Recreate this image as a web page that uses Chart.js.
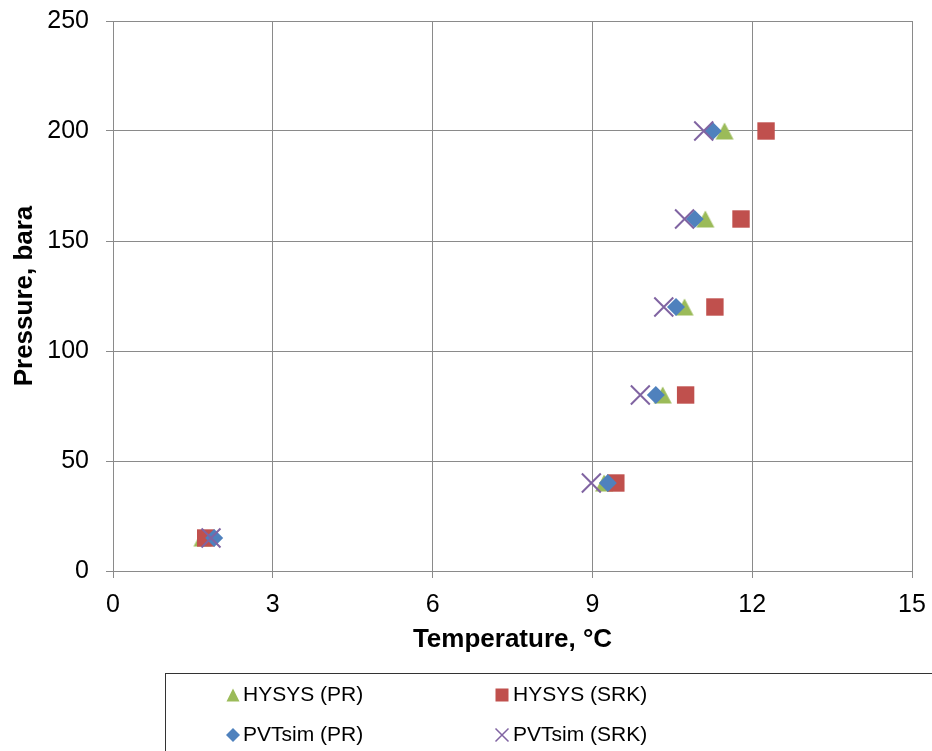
<!DOCTYPE html>
<html><head><meta charset="utf-8">
<script src="https://cdn.jsdelivr.net/npm/chart.js@4"></script>
<style>html,body{margin:0;padding:0;background:#fff}canvas{display:block}</style>
</head><body>
<canvas id="c" width="932" height="751"></canvas>
<script>
const seriesNames = ['HYSYS (PR)', 'HYSYS (SRK)', 'PVTsim (PR)', 'PVTsim (SRK)'];
const pressures = [15, 40, 80, 120, 160, 200];
const hysysPR  = [1.68, 9.22, 10.32, 10.73, 11.12, 11.48];
const hysysSRK = [1.74, 9.44, 10.75, 11.30, 11.79, 12.26];
const pvtsimPR = [1.90, 9.29, 10.19, 10.57, 10.92, 11.26];
const pvtsimSRK = [1.84, 8.98, 9.90, 10.34, 10.73, 11.09];
const xTicks = [0, 3, 6, 9, 12, 15];
const yTicks = [0, 50, 100, 150, 200, 250];
const xTitle = 'Temperature, °C';
const yTitle = 'Pressure, bara';
const colors = ['#9BBB59', '#C0504D', '#4F81BD', '#8064A2'];

const FAM = "'Liberation Sans', Arial, sans-serif";
const GRID = '#8a8a8a';

function triCanvas(w, h, color) {
  const c = document.createElement('canvas');
  c.width = 20; c.height = 20;
  const x = c.getContext('2d');
  x.fillStyle = color;
  const cx = 10, cy = 10;
  x.beginPath();
  x.moveTo(cx, cy - h / 2);
  x.lineTo(cx + w / 2, cy + h / 2);
  x.lineTo(cx - w / 2, cy + h / 2);
  x.closePath();
  x.fill();
  return c;
}
const mk = arr => arr.map((t, i) => ({x: t, y: pressures[i]}));

const legendPlugin = {
  id: 'xlLegend',
  afterDraw(chart) {
    const ctx = chart.ctx;
    ctx.save();
    ctx.strokeStyle = '#333';
    ctx.lineWidth = 1;
    ctx.strokeRect(165.5, 673.5, 800, 120);
    const mx = [233, 502], tx = [243, 513], ry = [695, 735];
    ctx.font = '21px ' + FAM;
    ctx.textBaseline = 'middle';
    ctx.textAlign = 'left';
    seriesNames.forEach((name, i) => {
      const col = i % 2, row = Math.floor(i / 2);
      const x = mx[col], y = ry[row];
      ctx.fillStyle = colors[i];
      ctx.strokeStyle = colors[i];
      ctx.beginPath();
      if (i === 0) {
        ctx.moveTo(x, y - 6.5); ctx.lineTo(x + 6.5, y + 6.5); ctx.lineTo(x - 6.5, y + 6.5); ctx.closePath(); ctx.fill();
      } else if (i === 1) {
        ctx.fillRect(x - 6.5, y - 6.5, 13, 13);
      } else if (i === 2) {
        ctx.moveTo(x, y - 7); ctx.lineTo(x + 7, y); ctx.lineTo(x, y + 7); ctx.lineTo(x - 7, y); ctx.closePath(); ctx.fill();
      } else {
        ctx.lineWidth = 1.5;
        ctx.moveTo(x - 6.5, y - 6.5); ctx.lineTo(x + 6.5, y + 6.5);
        ctx.moveTo(x + 6.5, y - 6.5); ctx.lineTo(x - 6.5, y + 6.5);
        ctx.stroke();
      }
      ctx.fillStyle = '#000';
      ctx.fillText(name, tx[col], y);
    });
    ctx.restore();
  }
};

new Chart(document.getElementById('c'), {
  type: 'scatter',
  data: {
    datasets: [
      {label: seriesNames[0], data: mk(hysysPR), pointStyle: triCanvas(18, 17, colors[0]),
       backgroundColor: colors[0], borderColor: colors[0], pointBorderWidth: 0, order: 4},
      {label: seriesNames[1], data: mk(hysysSRK), pointStyle: 'rect', pointRadius: 12.3,
       backgroundColor: colors[1], borderColor: colors[1], pointBorderWidth: 0, order: 3},
      {label: seriesNames[2], data: mk(pvtsimPR), pointStyle: 'rectRot', pointRadius: 9,
       backgroundColor: colors[2], borderColor: colors[2], pointBorderWidth: 0, order: 2},
      {label: seriesNames[3], data: mk(pvtsimSRK), pointStyle: 'crossRot', pointRadius: 13.4,
       backgroundColor: colors[3], borderColor: colors[3], pointBorderWidth: 2, order: 1}
    ]
  },
  options: {
    responsive: false,
    devicePixelRatio: 1,
    animation: false,
    events: [],
    layout: {padding: {left: 0, right: 20, top: 21, bottom: 96}},
    plugins: {legend: {display: false}, tooltip: {enabled: false}},
    scales: {
      x: {
        type: 'linear', min: 0, max: 15,
        afterBuildTicks: s => { s.ticks = xTicks.map(v => ({value: v})); },
        afterFit: s => { s.height = 84; s.paddingLeft = 0; s.paddingRight = 0; },
        ticks: {font: {family: FAM, size: 25}, color: '#000', padding: 12},
        grid: {color: GRID, lineWidth: 1, tickLength: 7},
        border: {color: GRID, width: 1},
        title: {display: true, text: xTitle, color: '#000', padding: 0,
                font: {family: FAM, size: 26, weight: 'bold'}}
      },
      y: {
        type: 'linear', min: 0, max: 250,
        afterBuildTicks: s => { s.ticks = yTicks.map(v => ({value: v})); },
        afterFit: s => { s.width = 113; s.paddingTop = 0; s.paddingBottom = 0; },
        ticks: {font: {family: FAM, size: 25}, color: '#000', padding: 17},
        grid: {color: GRID, lineWidth: 1, tickLength: 7},
        border: {color: GRID, width: 1},
        title: {display: true, text: yTitle, color: '#000', padding: {top: 9, bottom: 0},
                font: {family: FAM, size: 26, weight: 'bold'}}
      }
    }
  },
  plugins: [legendPlugin]
});
</script>
</body></html>
